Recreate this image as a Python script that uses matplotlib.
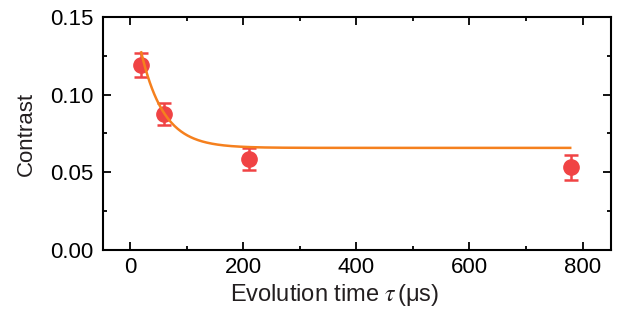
import numpy as np
import matplotlib.pyplot as plt

plt.rcParams['font.family'] = ['Liberation Sans', 'DejaVu Sans']
plt.rcParams['mathtext.fontset'] = 'stix'

# measured points
tau = [20, 60, 210, 780]
contrast = [0.119, 0.0875, 0.0585, 0.0533]
err = [0.0075, 0.0072, 0.0070, 0.0080]

# exponential fit parameters: A*exp(-(t-t0)/T) + C
fit_t0 = 20
fit_A = 0.0615
fit_T = 40
fit_C = 0.0657
fit_end = 778

red = '#f04344'
orange = '#f5801e'

fig = plt.figure(figsize=(6.19, 3.2), dpi=100)
ax = fig.add_axes([0.166, 0.219, 0.821, 0.728])

t = np.linspace(fit_t0, fit_end, 400)
ax.plot(t, fit_A * np.exp(-(t - fit_t0) / fit_T) + fit_C, color=orange, lw=1.8, zorder=3)
ax.errorbar(tau, contrast, yerr=err, fmt='o', color=red, ms=11, elinewidth=1.8,
            capsize=5, capthick=1.8, zorder=2)

ax.set_xlim(-48, 850)
ax.set_ylim(0, 0.15)
ax.set_xticks([0, 200, 400, 600, 800])
ax.set_xticks([100, 300, 500, 700], minor=True)
ax.set_yticks([0.00, 0.05, 0.10, 0.15])
ax.set_yticklabels(['0.00', '0.05', '0.10', '0.15'])
ax.set_yticks([0.025, 0.075, 0.125], minor=True)
ax.tick_params(which='both', direction='in', top=True, right=True, labelsize=16, width=1.3)
ax.tick_params(which='major', length=6)
ax.tick_params(which='minor', length=3)
ax.tick_params(axis='x', which='major', pad=5)
ax.tick_params(axis='y', which='major', pad=7)
for s in ax.spines.values():
    s.set_linewidth(1.5)

ax.set_xlabel(r'Evolution time $\tau\,$(μs)', fontsize=17, color='#231f20', labelpad=3, x=0.457)
ax.set_ylabel('Contrast', fontsize=16, color='#231f20', labelpad=9)

fig.savefig('out.png', dpi=100)
